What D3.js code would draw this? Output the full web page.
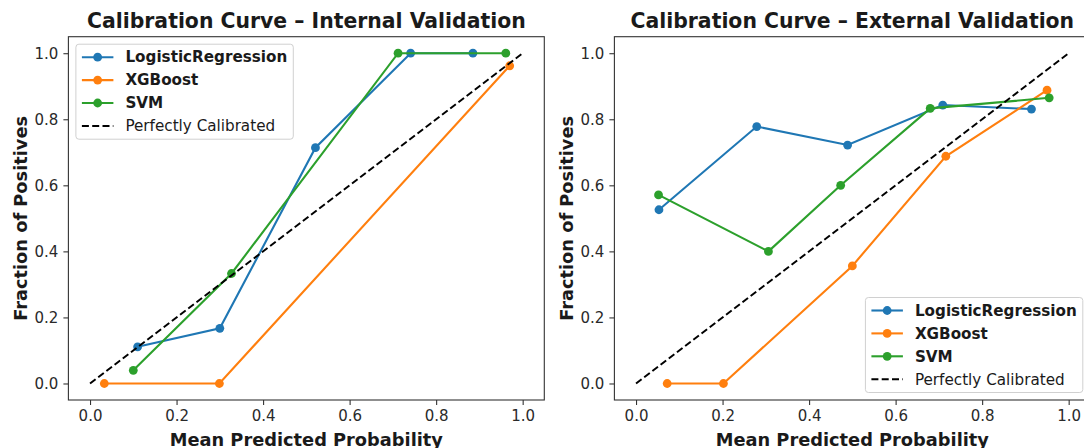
<!DOCTYPE html>
<html>
<head>
<meta charset="utf-8">
<script src="https://cdn.jsdelivr.net/npm/d3@7"></script>
<style>
  body { margin: 0; background: #fff; }
  svg { display: block; font-family: "DejaVu Sans", sans-serif; }
</style>
</head>
<body>
<svg id="chart" width="1084" height="448"></svg>
<script>
  // ---------------- data ----------------
  const models = ["LogisticRegression", "XGBoost", "SVM"];
  const colors = ["#1f77b4", "#ff7f0e", "#2ca02c"];
  const tickValues = [0, 0.2, 0.4, 0.6, 0.8, 1.0];

  // internal validation: mean predicted prob / fraction of positives
  const intLrX = [0.11, 0.30, 0.521, 0.741, 0.885];
  const intLrY = [0.111, 0.167, 0.714, 1.0, 1.0];
  const intXgbX = [0.033, 0.299, 0.97];
  const intXgbY = [0.0, 0.0, 0.962];
  const intSvmX = [0.10, 0.327, 0.712, 0.961];
  const intSvmY = [0.04, 0.333, 1.0, 1.0];

  // external validation
  const extLrX = [0.053, 0.279, 0.489, 0.709, 0.914];
  const extLrY = [0.526, 0.778, 0.722, 0.843, 0.831];
  const extXgbX = [0.072, 0.202, 0.50, 0.716, 0.95];
  const extXgbY = [0.0, 0.0, 0.356, 0.688, 0.888];
  const extSvmX = [0.052, 0.306, 0.473, 0.68, 0.955];
  const extSvmY = [0.571, 0.40, 0.60, 0.833, 0.865];

  const zip = (xs, ys) => xs.map((x, i) => ({ x, y: ys[i] }));

  const panels = [
    {
      title: "Calibration Curve – Internal Validation",
      left: 68.4, right: 544.3, legend: "upper left",
      series: [zip(intLrX, intLrY), zip(intXgbX, intXgbY), zip(intSvmX, intSvmY)]
    },
    {
      title: "Calibration Curve – External Validation",
      left: 614.4, right: 1090.3, legend: "lower right",
      series: [zip(extLrX, extLrY), zip(extXgbX, extXgbY), zip(extSvmX, extSvmY)]
    }
  ];

  const svg = d3.select("#chart");
  const axTop = 36.7, axBottom = 400;
  const fmt = d3.format(".1f");
  const textColor = "#1a1a1a";

  panels.forEach(p => {
    // 5% margins like matplotlib
    const x = d3.scaleLinear().domain([-0.05, 1.05]).range([p.left, p.right]);
    const y = d3.scaleLinear().domain([-0.05, 1.05]).range([axBottom, axTop]);
    const g = svg.append("g");

    // x axis
    const xa = g.append("g")
      .attr("transform", `translate(0,${axBottom})`)
      .call(d3.axisBottom(x).tickValues(tickValues).tickFormat(fmt).tickSize(5).tickPadding(5));
    // y axis
    const ya = g.append("g")
      .attr("transform", `translate(${p.left},0)`)
      .call(d3.axisLeft(y).tickValues(tickValues).tickFormat(fmt).tickSize(5).tickPadding(5));
    [xa, ya].forEach(a => {
      a.select(".domain").remove();
      a.selectAll("line").attr("stroke", "#333").attr("stroke-width", 1.1);
      a.selectAll("text").attr("fill", "#2a2a2a")
        .style("font-family", "DejaVu Sans").style("font-size", "15px");
    });

    // series lines + markers
    const line = d3.line().x(d => x(d.x)).y(d => y(d.y));
    p.series.forEach((s, i) => {
      g.append("path").datum(s)
        .attr("d", line)
        .attr("fill", "none")
        .attr("stroke", colors[i])
        .attr("stroke-width", 2.1);
      g.selectAll(null).data(s).enter().append("circle")
        .attr("cx", d => x(d.x))
        .attr("cy", d => y(d.y))
        .attr("r", 4.4)
        .attr("fill", colors[i]);
    });

    // perfectly calibrated diagonal
    g.append("path").datum([{ x: 0, y: 0 }, { x: 1, y: 1 }])
      .attr("d", line)
      .attr("fill", "none")
      .attr("stroke", "#000")
      .attr("stroke-width", 2)
      .attr("stroke-dasharray", "7,3.3");

    // frame
    g.append("rect")
      .attr("x", p.left).attr("y", axTop)
      .attr("width", p.right - p.left).attr("height", axBottom - axTop)
      .attr("fill", "none").attr("stroke", "#333").attr("stroke-width", 1.1);

    // title and labels
    const cx = (p.left + p.right) / 2;
    g.append("text")
      .attr("x", cx).attr("y", 28)
      .attr("text-anchor", "middle")
      .attr("fill", textColor)
      .style("font-size", "20.4px").style("font-weight", "bold")
      .text(p.title);
    g.append("text")
      .attr("x", cx).attr("y", 446)
      .attr("text-anchor", "middle")
      .attr("fill", textColor)
      .style("font-size", "17.8px").style("font-weight", "bold")
      .text("Mean Predicted Probability");
    g.append("text")
      .attr("transform", `translate(${p.left - 41},${(axTop + axBottom) / 2}) rotate(-90)`)
      .attr("text-anchor", "middle")
      .attr("fill", textColor)
      .style("font-size", "17.8px").style("font-weight", "bold")
      .text("Fraction of Positives");

    // legend
    const lg = g.append("g");
    const box = lg.append("rect")
      .attr("rx", 3).attr("ry", 3)
      .attr("fill", "#fff").attr("fill-opacity", 0.85)
      .attr("stroke", "#d0d0d0").attr("stroke-width", 1);
    const rowH = 22.9, pad = 6, handleW = 31.5, gap = 12;
    const entries = models.map((m, i) => ({ label: m, color: colors[i], bold: true, dash: false }))
      .concat([{ label: "Perfectly Calibrated", color: "#000", bold: false, dash: true }]);
    let maxW = 0;
    entries.forEach((e, i) => {
      const ry = 13 + i * rowH;
      lg.append("line")
        .attr("x1", pad).attr("x2", pad + handleW)
        .attr("y1", ry).attr("y2", ry)
        .attr("stroke", e.color).attr("stroke-width", e.dash ? 2 : 2.1)
        .attr("stroke-dasharray", e.dash ? "7,3.3" : null);
      if (!e.dash) {
        lg.append("circle").attr("cx", pad + handleW / 2).attr("cy", ry).attr("r", 4.4).attr("fill", e.color);
      }
      const t = lg.append("text")
        .attr("x", pad + handleW + gap).attr("y", ry + 5.3)
        .attr("fill", textColor)
        .style("font-size", "15.2px").style("font-weight", e.bold ? "bold" : "normal")
        .text(e.label);
      maxW = Math.max(maxW, t.node().getComputedTextLength());
    });
    const bw = pad + handleW + gap + maxW + 6;
    const bh = 95;
    box.attr("width", bw).attr("height", bh);
    if (p.legend === "upper left") {
      lg.attr("transform", `translate(${p.left + 7.5},${axTop + 7.5})`);
    } else {
      lg.attr("transform", `translate(${p.right - 7.5 - bw},${axBottom - 7.5 - bh})`);
    }
  });
</script>
</body>
</html>
